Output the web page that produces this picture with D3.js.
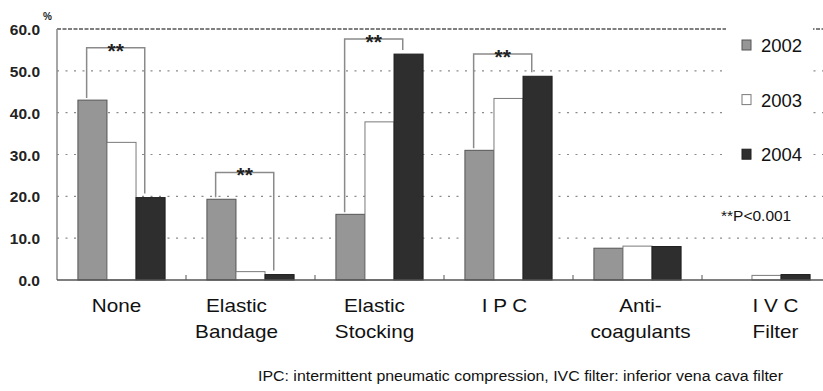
<!DOCTYPE html>
<html>
<head>
<meta charset="utf-8">
<script src="https://cdn.jsdelivr.net/npm/d3@7"></script>
<style>
  body { margin: 0; background: #fff; }
  text { font-family: "Liberation Sans", Arial, sans-serif; }
</style>
</head>
<body>
<div class="canvas"></div>
<script>
// data
const categories = ['None', 'Elastic Bandage', 'Elastic Stocking', 'IPC', 'Anticoagulants', 'IVC Filter']
const categoryLines = [['None'], ['Elastic', 'Bandage'], ['Elastic', 'Stocking'], ['I P C'], ['Anti-', 'coagulants'], ['I V C', 'Filter']]
const years = ['2002', '2003', '2004']
const values2002 = [43.0, 19.3, 15.7, 31.0, 7.6, 0]
const values2003 = [32.9, 2.0, 37.8, 43.4, 8.1, 1.1]
const values2004 = [19.7, 1.3, 54.0, 48.7, 8.0, 1.3]
const yTicks = [0, 10, 20, 30, 40, 50, 60]
// significance brackets: category, from year, to year, height of bracket (%)
const brackets = [
  ['None', '2002', '2004', 55.5],
  ['Elastic Bandage', '2002', '2004', 25.7],
  ['Elastic Stocking', '2002', '2004', 57.6],
  ['IPC', '2002', '2004', 54.0]
]

const seriesValues = { '2002': values2002, '2003': values2003, '2004': values2004 }
const fills = { '2002': '#969696', '2003': '#ffffff', '2004': '#2e2e2e' }
const strokes = { '2002': '#555555', '2003': '#7a7a7a', '2004': '#1e1e1e' }
// the labels in the original are not quite centred under their groups
const labelNudge = [-5, -14, -5, -4, 3, 9]

const width = 823, height = 391
const plotLeft = 57, plotRight = 831, plotTop = 29, plotBottom = 280

const svg = d3.select('.canvas').append('svg')
    .attr('width', width)
    .attr('height', height)

const x = d3.scaleBand().domain(categories).range([plotLeft, plotRight])
const xs = d3.scaleBand().domain(years).range([0, x.bandwidth()]).paddingOuter(0.72)
const y = d3.scaleLinear().domain([0, 60]).range([plotBottom, plotTop])

// gridlines
svg.append('g')
  .selectAll('line')
  .data(yTicks.filter(d => d > 0 && d < 60))
  .join('line')
    .attr('x1', plotLeft)
    .attr('x2', width)
    .attr('y1', d => y(d))
    .attr('y2', d => y(d))
    .attr('stroke', '#8a8a8a')
    .attr('stroke-width', 1.2)
    .attr('stroke-dasharray', '2,6.5')

// top line at 60
svg.append('line')
    .attr('x1', plotLeft)
    .attr('x2', width)
    .attr('y1', y(60))
    .attr('y2', y(60))
    .attr('stroke', '#555')
    .attr('stroke-width', 1.3)
    .attr('stroke-dasharray', '4,1.5')

// legend background covers the gridlines
svg.append('rect')
    .attr('x', 726)
    .attr('y', 22)
    .attr('width', 87)
    .attr('height', 150)
    .attr('fill', '#fff')

// y tick labels
svg.append('g')
  .selectAll('text')
  .data(yTicks)
  .join('text')
    .attr('x', 40)
    .attr('y', d => y(d) + 6)
    .attr('text-anchor', 'end')
    .attr('font-size', 15.5)
    .attr('font-weight', 'bold')
    .attr('fill', '#222')
    .text(d => d.toFixed(1))

svg.append('text')
    .attr('x', 43)
    .attr('y', 19.5)
    .attr('font-size', 10)
    .attr('font-weight', 'bold')
    .attr('fill', '#222')
    .text('%')

// bars
const rows = []
categories.forEach((c, i) => {
  years.forEach(yr => rows.push({ cat: c, year: yr, value: seriesValues[yr][i] }))
})

svg.append('g')
  .selectAll('rect')
  .data(rows.filter(d => d.value > 0))
  .join('rect')
    .attr('x', d => x(d.cat) + xs(d.year))
    .attr('y', d => y(d.value))
    .attr('width', xs.bandwidth())
    .attr('height', d => y(0) - y(d.value))
    .attr('fill', d => fills[d.year])
    .attr('stroke', d => strokes[d.year])
    .attr('stroke-width', 1)

// axes
svg.append('line')
    .attr('x1', plotLeft)
    .attr('x2', plotLeft)
    .attr('y1', y(60))
    .attr('y2', y(0))
    .attr('stroke', '#888')
    .attr('stroke-width', 1.5)

svg.append('line')
    .attr('x1', plotLeft)
    .attr('x2', width)
    .attr('y1', y(0))
    .attr('y2', y(0))
    .attr('stroke', '#555')
    .attr('stroke-width', 1.6)

svg.append('g')
  .selectAll('line')
  .data(categories.slice(1))
  .join('line')
    .attr('x1', d => x(d))
    .attr('x2', d => x(d))
    .attr('y1', y(0) - 5)
    .attr('y2', y(0))
    .attr('stroke', '#555')
    .attr('stroke-width', 1)

// category labels
const catLabels = svg.append('g')
  .selectAll('g')
  .data(categories)
  .join('g')
    .attr('transform', (d, i) => `translate(${x(d) + x.bandwidth() / 2 + labelNudge[i]},312)`)

catLabels.selectAll('text')
  .data((d, i) => categoryLines[i])
  .join('text')
    .attr('transform', (d, j) => `translate(0,${j * 26}) scale(1.15,1)`)
    .attr('text-anchor', 'middle')
    .attr('font-size', 18)
    .attr('fill', '#111')
    .text(d => d)

// significance brackets
const bx = (cat, yr) => x(cat) + xs(yr) + xs.bandwidth() * 0.3
const bracketG = svg.append('g')
brackets.forEach(([cat, from, to, h]) => {
  const i = categories.indexOf(cat)
  const x1 = bx(cat, from), x2 = bx(cat, to)
  const yTop = y(h)
  const y1 = y(seriesValues[from][i]) - 2
  const y2 = y(seriesValues[to][i]) - 4
  bracketG.append('path')
      .attr('d', `M${x1},${y1} V${yTop} H${x2} V${y2}`)
      .attr('fill', 'none')
      .attr('stroke', '#8a8a8a')
      .attr('stroke-width', 1.5)
  bracketG.append('text')
      .attr('x', (x1 + x2) / 2)
      .attr('y', yTop + 10)
      .attr('text-anchor', 'middle')
      .attr('font-size', 21)
      .attr('font-weight', 'bold')
      .attr('fill', '#222')
      .text('**')
})

// legend
const legend = svg.append('g')
  .selectAll('g')
  .data(years)
  .join('g')
    .attr('transform', (d, i) => `translate(742,${45 + i * 54.6})`)

legend.append('rect')
    .attr('x', 0)
    .attr('y', -5)
    .attr('width', 9)
    .attr('height', 10)
    .attr('fill', d => fills[d])
    .attr('stroke', d => strokes[d])
    .attr('stroke-width', 1)

legend.append('text')
    .attr('x', 19)
    .attr('y', 7)
    .attr('font-size', 18.5)
    .attr('fill', '#111')
    .text(d => d)

svg.append('text')
    .attr('x', 721)
    .attr('y', 221)
    .attr('font-size', 15.5)
    .attr('fill', '#111')
    .text('**P<0.001')

// footnote
svg.append('text')
    .attr('x', 258)
    .attr('y', 381)
    .attr('font-size', 14)
    .attr('textLength', 525)
    .attr('lengthAdjust', 'spacingAndGlyphs')
    .attr('fill', '#111')
    .text('IPC: intermittent pneumatic compression, IVC filter: inferior vena cava filter')
</script>
</body>
</html>
